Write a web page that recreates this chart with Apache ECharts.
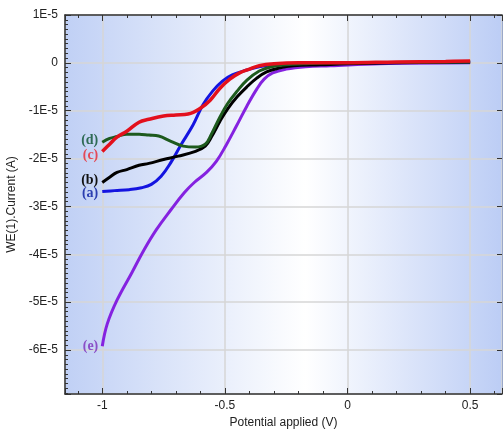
<!DOCTYPE html>
<html>
<head>
<meta charset="utf-8">
<script src="https://cdn.jsdelivr.net/npm/echarts@6/dist/echarts.min.js"></script>
<style>
html, body { margin: 0; padding: 0; background: #fff; }
#chart { width: 504px; height: 429px; }
</style>
</head>
<body>
<div id="chart"></div>
<script>
// potential (V) and current (x 1E-5 A)
var voltA = [-1.0, -0.95, -0.89, -0.84, -0.8, -0.76, -0.72, -0.68, -0.63, -0.59, -0.55, -0.51, -0.47, -0.41, -0.36, -0.3, -0.2, -0.07, 0.1, 0.3, 0.5];
var curA  = [-2.69, -2.67, -2.65, -2.61, -2.54, -2.37, -2.08, -1.72, -1.30, -0.88, -0.59, -0.38, -0.25, -0.15, -0.08, -0.04, -0.02, 0, 0, 0.01, 0.02];

var voltB = [-1.0, -0.97, -0.94, -0.9, -0.85, -0.81, -0.75, -0.69, -0.62, -0.58, -0.555, -0.52, -0.49, -0.45, -0.41, -0.37, -0.33, -0.28, -0.22, -0.11, 0, 0.2, 0.5];
var curB  = [-2.50, -2.39, -2.29, -2.23, -2.14, -2.10, -2.02, -1.95, -1.85, -1.74, -1.55, -1.22, -0.97, -0.71, -0.50, -0.32, -0.19, -0.11, -0.06, -0.04, -0.02, 0, 0.02];

var voltC = [-1.0, -0.97, -0.94, -0.9, -0.85, -0.81, -0.75, -0.7, -0.65, -0.6, -0.56, -0.52, -0.48, -0.44, -0.4, -0.36, -0.3, -0.2, -0.1, 0, 0.2, 0.4, 0.5];
var curC  = [-1.85, -1.70, -1.55, -1.43, -1.24, -1.18, -1.11, -1.09, -1.07, -0.95, -0.78, -0.53, -0.34, -0.21, -0.13, -0.06, -0.02, 0, 0, 0, 0.02, 0.03, 0.04];

var voltD = [-1.0, -0.97, -0.94, -0.9, -0.85, -0.81, -0.77, -0.72, -0.67, -0.62, -0.58, -0.555, -0.52, -0.49, -0.45, -0.41, -0.36, -0.31, -0.25, -0.18, -0.07, 0.2, 0.5];
var curD  = [-1.66, -1.58, -1.54, -1.49, -1.49, -1.51, -1.53, -1.64, -1.74, -1.76, -1.70, -1.49, -1.13, -0.86, -0.59, -0.36, -0.17, -0.08, -0.04, -0.02, 0, 0.01, 0.02];

var voltE = [-1.0, -0.98, -0.94, -0.88, -0.83, -0.78, -0.72, -0.665, -0.625, -0.575, -0.535, -0.495, -0.453, -0.41, -0.37, -0.34, -0.305, -0.25, -0.17, -0.07, 0.13, 0.5];
var curE  = [-5.92, -5.46, -4.96, -4.39, -3.91, -3.49, -3.07, -2.71, -2.50, -2.29, -2.06, -1.72, -1.32, -0.90, -0.55, -0.34, -0.21, -0.13, -0.08, -0.06, -0.02, 0];

var xTicks = [-1, -0.5, 0, 0.5];
var UNIT = 1e-5;

var chart = echarts.init(document.getElementById('chart'));

function pairs(xs, ys) {
    return xs.map(function (x, i) { return [x, ys[i] * UNIT]; });
}

function curve(name, xs, ys, color, tagColor, offY, width) {
    return {
        name: name,
        type: 'line',
        xAxisIndex: 0,
        yAxisIndex: 0,
        smooth: 0.4,
        showSymbol: false,
        silent: true,
        lineStyle: { color: color, width: width || 3 },
        data: pairs(xs, ys),
        markPoint: {
            symbol: 'circle',
            symbolSize: 0,
            silent: true,
            animation: false,
            data: [{
                coord: [xs[0], ys[0] * UNIT],
                label: {
                    show: true,
                    position: 'left',
                    distance: 4,
                    offset: [0, offY],
                    formatter: name,
                    color: tagColor,
                    fontFamily: 'Liberation Serif',
                    fontWeight: 'bold',
                    fontSize: 14
                }
            }]
        }
    };
}

var bg = new echarts.graphic.LinearGradient(0, 0, 1, 0, [
    { offset: 0, color: '#c0d0f5' },
    { offset: 0.55, color: '#ffffff' },
    { offset: 1, color: '#bccdf5' }
]);

var axisCol = '#333333';

option = {
    animation: false,
    backgroundColor: '#ffffff',
    grid: {
        left: 65,
        right: 2,
        top: 15,
        bottom: 35,
        outerBoundsMode: 'none',
        containLabel: false,
        show: true,
        backgroundColor: bg,
        borderWidth: 0
    },
    xAxis: [
        {
            type: 'value',
            min: -1.152,
            max: 0.63,
            splitNumber: 4,
            name: 'Potential applied (V)',
            nameLocation: 'middle',
            nameGap: 19,
            nameTextStyle: { fontFamily: 'Liberation Sans', fontSize: 12, color: '#222' },
            axisLine: { onZero: false, lineStyle: { color: axisCol, width: 1.5 } },
            axisTick: { inside: true, length: 6, lineStyle: { color: axisCol } },
            minorTick: { show: true, splitNumber: 5, length: 3, lineStyle: { color: axisCol } },
            axisLabel: {
                margin: 6,
                fontFamily: 'Liberation Sans',
                fontSize: 12,
                color: '#222',
                showMinLabel: false,
                showMaxLabel: false,
                formatter: function (v) {
                    return xTicks.indexOf(Math.round(v * 10) / 10) >= 0 ? String(Math.round(v * 10) / 10) : '';
                }
            },
            splitLine: { show: true, lineStyle: { color: '#d6d6d6', width: 1.5 } }
        },
        {
            type: 'value',
            position: 'top',
            min: -1.152,
            max: 0.63,
            splitNumber: 4,
            axisLine: { onZero: false, lineStyle: { color: axisCol, width: 1.5 } },
            axisTick: { inside: true, length: 6, lineStyle: { color: axisCol } },
            minorTick: { show: true, splitNumber: 5, length: 3, lineStyle: { color: axisCol } },
            axisLabel: { show: false },
            splitLine: { show: false }
        }
    ],
    yAxis: [
        {
            type: 'value',
            min: -6.92e-5,
            max: 1e-5,
            splitNumber: 8,
            name: 'WE(1).Current (A)',
            nameLocation: 'middle',
            nameGap: 47,
            nameTextStyle: { fontFamily: 'Liberation Sans', fontSize: 12, color: '#222' },
            axisLine: { onZero: false, lineStyle: { color: axisCol, width: 1.5 } },
            axisTick: { inside: true, length: 6, lineStyle: { color: axisCol } },
            minorTick: { show: true, splitNumber: 10, length: 3, lineStyle: { color: axisCol } },
            axisLabel: {
                margin: 7,
                fontFamily: 'Liberation Sans',
                fontSize: 12,
                color: '#222',
                showMinLabel: false,
                formatter: function (v) {
                    var n = Math.round(v / UNIT);
                    if (Math.abs(v / UNIT - n) > 0.01) return '';
                    return n === 0 ? '0' : n + 'E-5';
                }
            },
            splitLine: { show: true, lineStyle: { color: '#d6d6d6', width: 1.5 } }
        },
        {
            type: 'value',
            position: 'right',
            min: -6.92e-5,
            max: 1e-5,
            splitNumber: 8,
            axisLine: { show: true, onZero: false, lineStyle: { color: '#9aa8c8', width: 1 } },
            axisTick: { inside: true, length: 5, lineStyle: { color: axisCol } },
            axisLabel: { show: false },
            splitLine: { show: false }
        }
    ],
    series: [
        curve('(e)', voltE, curE, '#8522e0', '#8a4fc7', 0),
        curve('(a)', voltA, curA, '#1414e0', '#2b3eb0', 2),
        curve('(b)', voltB, curB, '#000000', '#111111', -2),
        curve('(d)', voltD, curD, '#1d5a1d', '#2f6b55', -2),
        curve('(c)', voltC, curC, '#e3101c', '#e34a57', 4, 3.5)
    ]
};

chart.setOption(option);
</script>
</body>
</html>
